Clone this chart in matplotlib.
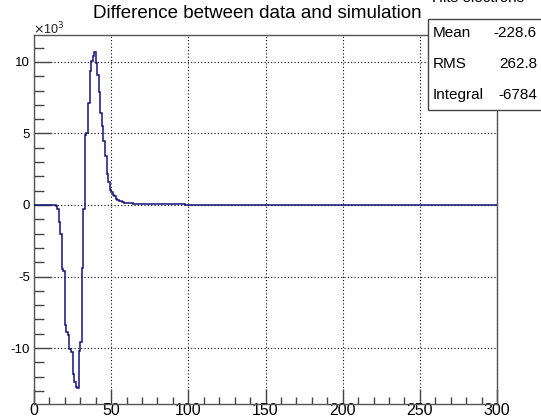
import numpy as np
import matplotlib
matplotlib.use("Agg")
import matplotlib.pyplot as plt
from matplotlib.patches import Rectangle
from matplotlib.ticker import MultipleLocator, FuncFormatter

plt.rcParams["font.family"] = ["Liberation Sans", "DejaVu Sans"]
plt.rcParams["axes.unicode_minus"] = False

# Histogram: difference between data and simulation, 1-unit bins on [0, 300)
x_min, x_max = 0, 300
head_counts = [
    0, 0, 0, 0, 0, 0, 0, 0, 0, 0,
    0, 0, 0, 0, -100, -250, -1200, -2000, -4500, -4600,
    -8400, -8900, -9100, -10100, -10300, -11800, -12400, -12700, -12800, -10200,
    -9600, -4400, -300, 4900, 5000, 7100, 9400, 10100, 10400, 10700,
    9900, 9100, 7900, 6400, 5500, 4500, 3400, 2200, 1600, 1050,
    900, 700, 600, 450, 350, 300, 250, 200, 170, 150,
    130, 120, 120, 110, 100, 100, 90, 90, 80, 80,
    70, 60, 60, 70, 60, 50, 60, 60, 70, 60,
    50, 60, 60, 50, 60, 60, 40, 50, 60, 50,
    60, 70, 60, 50, 50, 40, 50, 40, 30, 20,
]
tail_counts = [0] * (x_max - len(head_counts))
counts = np.array(head_counts + tail_counts, dtype=float)
edges = np.arange(x_min, x_max + 1, 1)

stat_names = ["Mean", "RMS", "Integral"]
stat_values = ["-228.6", "262.8", "-6784"]
hist_name = "Hits electrons"
title = "Difference between data and simulation"

W, H = 541, 417
fig = plt.figure(figsize=(W / 100, H / 100), dpi=100)
fig.patch.set_facecolor("white")

ax = fig.add_axes([34 / W, 13 / H, 463 / W, 369 / H])
ax.stairs(counts, edges, color="#14147a", linewidth=1.1, zorder=3)

ax.set_xlim(x_min, x_max)
ax.set_ylim(-13916, 11888)

ax.xaxis.set_major_locator(MultipleLocator(50))
ax.xaxis.set_minor_locator(MultipleLocator(10))
ax.yaxis.set_major_locator(MultipleLocator(5000))
ax.yaxis.set_minor_locator(MultipleLocator(1000))
ax.yaxis.set_major_formatter(FuncFormatter(lambda v, p: f"{v / 1000:g}"))

ax.tick_params(axis="both", which="both", direction="in", top=False, right=False,
               color="#444444", width=1.0)
ax.tick_params(axis="x", which="major", length=11, labelsize=11.5, pad=-1)
ax.tick_params(axis="x", which="minor", length=5)
ax.tick_params(axis="y", which="major", length=12, labelsize=9.5, pad=3)
ax.tick_params(axis="y", which="minor", length=7)

for s in ax.spines.values():
    s.set_color("#555555")
    s.set_linewidth(1.0)

ax.grid(True, which="major", color="black", linestyle=(0, (1, 2)), linewidth=0.8)
ax.set_axisbelow(True)

# exponent label above the y axis
fig.text(33 / W, 1 - 29 / H, r"$\times$10$^{3}$", fontsize=9, ha="left", va="center",
         color="#222222")

# title
fig.text(257 / W, 1 - 14 / H, title, fontsize=13.5, ha="center", va="center")

# statistics box
box = Rectangle((428 / W, 1 - 110 / H), (W - 428 + 5) / W, 91 / H,
                transform=fig.transFigure, facecolor="white", edgecolor="#444444",
                linewidth=1.0, zorder=10)
fig.add_artist(box)
fig.text(432 / W, 1 + 2 / H, hist_name, fontsize=11, ha="left", va="center", zorder=11)
for i, (name, val) in enumerate(zip(stat_names, stat_values)):
    yc = [33, 64, 95][i]
    fig.text(433 / W, 1 - yc / H, name, fontsize=11, ha="left", va="center", zorder=11)
    fig.text(537 / W, 1 - yc / H, val, fontsize=11, ha="right", va="center", zorder=11)

fig.savefig("out.png", dpi=100)
